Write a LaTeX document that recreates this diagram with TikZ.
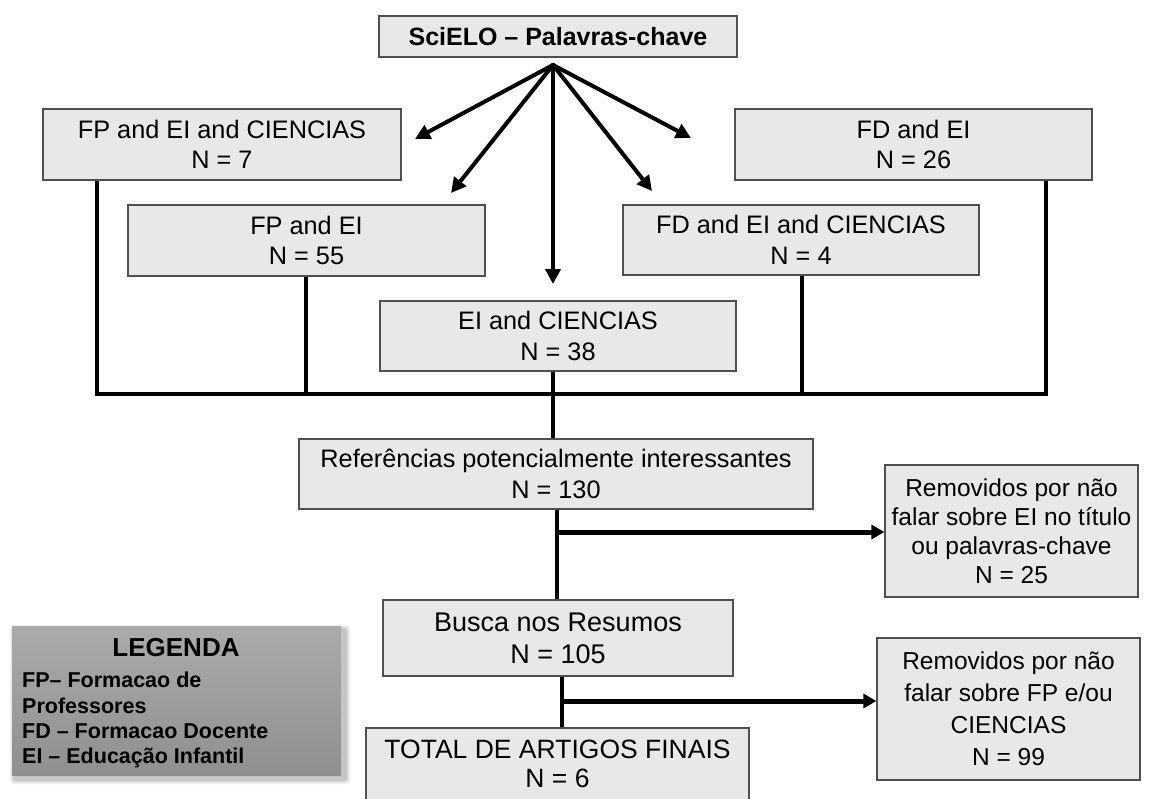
\documentclass[tikz,border=0pt]{standalone}
\usepackage{fontspec}
\setmainfont{Liberation Sans}
\usetikzlibrary{arrows.meta}

\definecolor{boxfill}{HTML}{E8E8E8}
\definecolor{boxline}{HTML}{505050}
\definecolor{legtop}{HTML}{ABABAB}
\definecolor{legbot}{HTML}{8F8F8F}

\tikzset{
  flowbox/.style={draw=boxline, fill=boxfill, line width=1.2pt, align=center,
    inner sep=0pt, font=\fontsize{25.3}{30.5}\selectfont},
  headbox/.style={flowbox, font=\fontsize{25}{30}\selectfont\bfseries},
  fanarrow/.style={line width=4pt, line cap=round, -{Triangle[length=15pt,width=15pt]}},
  busline/.style={line width=4.5pt, line join=miter},
  sidearrow/.style={line width=5pt, -{Triangle[length=13pt,width=14pt]}},
  legtext/.style={inner sep=0pt, font=\fontsize{21.5}{25.3}\selectfont\bfseries, align=left},
}

\begin{document}
\begin{tikzpicture}[x=1pt, y=-1pt]
\useasboundingbox (0,0) rectangle (1153,798);
\clip (0,0) rectangle (1153,798);
\fill[white] (0,0) rectangle (1153,798);

% header and the five keyword searches
\node[headbox, minimum width=358pt, minimum height=41pt] (title) at (558,36.5) {SciELO – Palavras-chave};
\node[flowbox, minimum width=358pt, minimum height=71pt] (b1) at (222,144.5) {FP and EI and CIENCIAS\\N = 7};
\node[flowbox, minimum width=357pt, minimum height=71pt] (b2) at (913.5,144.5) {FD and EI\\N = 26};
\node[flowbox, minimum width=357pt, minimum height=71pt] (b3) at (306.5,240.5) {FP and EI\\N = 55};
\node[flowbox, minimum width=356pt, minimum height=70pt] (b4) at (801,240) {FD and EI and CIENCIAS\\N = 4};
\node[flowbox, minimum width=356pt, minimum height=70pt] (b5) at (558,336) {EI and CIENCIAS\\N = 38};

% screening stages
\node[flowbox, minimum width=514pt, minimum height=70pt] (ref) at (556,474) {Referências potencialmente interessantes\\N = 130};
\node[flowbox, minimum width=253pt, minimum height=132pt, font=\fontsize{24.5}{29}\selectfont] (rem1) at (1011.5,531) {Removidos por não\\falar sobre EI no título\\ou palavras-chave\\N = 25};
\node[flowbox, minimum width=350pt, minimum height=76pt, font=\fontsize{27}{32}\selectfont] (busca) at (558,638) {Busca nos Resumos\\N = 105};
\node[flowbox, minimum width=263pt, minimum height=142pt, font=\fontsize{24.5}{32}\selectfont] (rem2) at (1008.5,709) {Removidos por não\\falar sobre FP e/ou\\CIENCIAS\\N = 99};
\node[flowbox, minimum width=383pt, minimum height=100pt, text depth=28pt, font=\fontsize{26.5}{29}\selectfont] (total) at (557.5,778) {TOTAL DE ARTIGOS FINAIS\\N = 6};

% fan of arrows below the header
\coordinate (fan) at (553,65);
\coordinate (t1) at (415,139);
\coordinate (t2) at (451,193);
\coordinate (t3) at (553,284);
\coordinate (t4) at (652,191);
\coordinate (t5) at (691,138);
\foreach \t in {t1,t2,t3,t4,t5} \draw[fanarrow] (fan) -- (\t);

% collecting bus
\coordinate (busL) at (97,394);
\coordinate (busR) at (1046,394);
\coordinate (bx3) at (306,394);
\coordinate (bx4) at (802,394);
\coordinate (bxc) at (553,394);
\draw[busline] (b1.south -| busL) -- (busL) -- (busR) -- (b2.south -| busR);
\draw[busline] (b3.south -| bx3) -- (bx3);
\draw[busline] (b4.south -| bx4) -- (bx4);
\draw[busline] (b5.south -| bxc) -- (ref.north -| bxc);

% exclusions
\coordinate (j1) at (557,532);
\draw[busline] (ref.south -| j1) -- (busca.north -| j1);
\draw[sidearrow] (j1) -- (rem1.west |- j1);
\coordinate (j2) at (562,701);
\draw[busline] (busca.south -| j2) -- (total.north -| j2);
\draw[sidearrow] (j2) -- (rem2.west |- j2);

% legend with soft shadow
\foreach \e/\o in {5/0.06,3.5/0.08,2/0.1}
  \fill[black, opacity=\o, rounded corners=3pt] (15-\e,630-\e) rectangle (345+\e,779+\e);
\node[draw=none, top color=legtop, bottom color=legbot, minimum width=329pt, minimum height=149pt, inner sep=0pt] (legend) at (176.5,700.5) {};
\node[inner sep=0pt, font=\fontsize{26}{30}\selectfont\bfseries] (legtitle) at (176,648) {LEGENDA};
\node[legtext, anchor=north west] (legbody) at (22,672) {FP– Formacao de\\Professores\\FD – Formacao Docente\\EI – Educação Infantil};
\end{tikzpicture}
\end{document}
